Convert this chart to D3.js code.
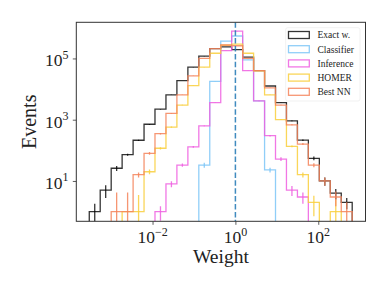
<!DOCTYPE html>
<html><head><meta charset="utf-8">
<script src="https://cdn.jsdelivr.net/npm/d3@7/dist/d3.min.js"></script>
<style>body{margin:0;background:#fff}svg{display:block}</style>
</head><body><svg id="c" width="388" height="291"></svg>
<script>
// ---- data ----
const binEdgesLog = [-3.527,-3.263,-2.998,-2.734,-2.469,-2.205,-1.941,-1.676,-1.412,-1.147,-0.883,-0.619,-0.354,-0.090,0.175,0.439,0.704,0.968,1.232,1.497,1.761,2.026,2.290,2.555,2.819];
const exactW     = [1,5,26,72,213,710,2200,6500,19000,52000,119000,210000,240000,195000,110000,40000,12600,3600,910,215,55,10,4,2];
const classifier = [0,0,0,0,0,0,0,0,0,0,33,17800,370000,540000,90000,4100,23,0,0,0,0,0,0,0];
const inference  = [0,0,0,0,0,0,1,8,33,130,630,3600,180000,780000,40000,4100,300,52,5,3,0,0,0,0];
const homer      = [0,0,0,1,1,20,117,570,3000,13000,52000,148000,270000,295000,148000,39000,6500,1000,135,16,2,0,1,0];
const bestNN     = [0,0,1,1,16,80,350,1600,6500,27000,100000,210000,275000,260000,100000,40000,11000,3000,680,160,33,10,3,1];
// symmetric error bar half-lengths (counts)
const exactErr      = [0.8,2.2,4.7,6,10,20,40,70,120,200,300,400,450,400,300,180,100,50,25,12,8,3,1.5,0.8];
const classifierErr = [0,0,0,0,0,0,0,0,0,0,6,100,500,600,250,50,4,0,0,0,0,0,0,0];
const inferenceErr  = [0,0,0,0,0,0,0.5,1.8,4,8,20,60,400,900,200,60,17,7,1.8,1.2,0,0,0,0];
const homerErr      = [0,0,0,0,2.5,3.5,10,25,50,100,200,350,500,500,350,180,70,30,10,3,1.3,0,1.5,0];
const bestErr       = [0,0,3.2,3.2,3,8,20,40,70,150,300,400,500,500,300,180,100,50,25,12,5,3,1.5,1];
const seriesNames  = ["Exact w.","Classifier","Inference","HOMER","Best NN"];
const seriesColors = ["#000000","#7cc6f7","#ef5fe0","#f9cf3c","#f5845a"];
const xTickExps = [-2,0,2];
const yTickExps = [1,3,5];
const refLineWeight = 1;

// ---- layout ----
const W = 388, H = 291;
const m = {l:76.3, t:22.3, r:365.5, b:221.3};
const svg = d3.select("#c");
const FONT = "'Liberation Serif','DejaVu Serif',serif";

const x = d3.scaleLog().domain([Math.pow(10,-3.84), Math.pow(10,3.14)]).range([m.l, m.r]);
const y = d3.scaleLog().domain([Math.pow(10,-0.317), Math.pow(10,6.18)]).range([m.b, m.t]);

svg.append("defs").append("clipPath").attr("id","pc")
  .append("rect").attr("x",m.l).attr("y",m.t).attr("width",m.r-m.l).attr("height",m.b-m.t);

const edges = binEdgesLog.map(e => Math.pow(10,e));
const yLow = m.b + 6;
const yv = v => v > 0 ? y(v) : yLow;

const series = [
  {vals: exactW, err: exactErr},
  {vals: classifier, err: classifierErr},
  {vals: inference, err: inferenceErr},
  {vals: homer, err: homerErr},
  {vals: bestNN, err: bestErr}
];

const plot = svg.append("g").attr("clip-path","url(#pc)");

series.forEach((s,si) => {
  const col = seriesColors[si];
  const op = si===0 ? 0.8 : 0.85;
  let p = `M${x(edges[0])},${yLow}`;
  s.vals.forEach((v,i) => {
    p += `L${x(edges[i])},${yv(v)}L${x(edges[i+1])},${yv(v)}`;
  });
  p += `L${x(edges[edges.length-1])},${yLow}`;
  plot.append("path").attr("d",p).attr("fill","none")
    .attr("stroke",col).attr("stroke-width",1.3).attr("stroke-opacity",op)
    .attr("stroke-linejoin","miter");
  s.vals.forEach((v,i) => {
    const e = s.err[i];
    if (!(v > 0) || !(e > 0)) return;
    const cx = x(Math.sqrt(edges[i]*edges[i+1]));
    const lo = v - e > 0 ? y(v - e) : yLow;
    const hi = y(v + e);
    plot.append("line").attr("x1",cx).attr("x2",cx).attr("y1",lo).attr("y2",hi)
      .attr("stroke",col).attr("stroke-width",1.3).attr("stroke-opacity",op);
  });
});

// reference line at weight = 1
plot.append("line").attr("x1",x(refLineWeight)).attr("x2",x(refLineWeight))
  .attr("y1",m.t).attr("y2",m.b).attr("stroke","#1f77b4").attr("stroke-opacity",0.85)
  .attr("stroke-width",1.5).attr("stroke-dasharray","5.5,2.4");

// axes ticks
const xAxis = d3.axisBottom(x).tickValues(xTickExps.map(e=>Math.pow(10,e))).tickFormat("").tickSizeInner(3.5).tickSizeOuter(0);
const gx = svg.append("g").attr("transform",`translate(0,${m.b})`).call(xAxis);
const yAxis = d3.axisLeft(y).tickValues(yTickExps.map(e=>Math.pow(10,e))).tickFormat("").tickSizeInner(3.5).tickSizeOuter(0);
const gy = svg.append("g").attr("transform",`translate(${m.l},0)`).call(yAxis);
[gx,gy].forEach(g => { g.select(".domain").remove(); g.selectAll(".tick line").attr("stroke","#333").attr("stroke-width",0.8); });

function powLabel(t, e) {
  t.append("tspan").text("10");
  t.append("tspan").attr("dy",-7.5).attr("font-size",12).text(e < 0 ? "\u2212" + (-e) : String(e));
}
xTickExps.forEach(e => {
  const t = svg.append("text").attr("x", x(Math.pow(10,e))).attr("y", 243)
    .attr("text-anchor","middle").attr("font-family",FONT).attr("font-size",17.5).attr("fill","#222");
  powLabel(t, e);
});
yTickExps.forEach(e => {
  const t = svg.append("text").attr("x", 68.5).attr("y", y(Math.pow(10,e)) + 7.8)
    .attr("text-anchor","end").attr("font-family",FONT).attr("font-size",17.5).attr("fill","#222");
  powLabel(t, e);
});

// frame
svg.append("rect").attr("x",m.l).attr("y",m.t).attr("width",m.r-m.l).attr("height",m.b-m.t)
  .attr("fill","none").attr("stroke","#333").attr("stroke-width",1);

// axis titles
svg.append("text").attr("x",(m.l+m.r)/2).attr("y",263).attr("text-anchor","middle")
  .attr("font-family",FONT).attr("font-size",19.5).attr("fill","#222").text("Weight");
svg.append("text").attr("transform",`translate(36,${(m.t+m.b)/2}) rotate(-90)`).attr("text-anchor","middle")
  .attr("font-family",FONT).attr("font-size",20).attr("fill","#222").text("Events");

// legend
const lg = svg.append("g");
lg.append("rect").attr("x",285.7).attr("y",27.7).attr("width",74.3).attr("height",73.3).attr("rx",2)
  .attr("fill","#fff").attr("fill-opacity",0.8).attr("stroke","#eee").attr("stroke-width",0.8);
seriesNames.forEach((n,i) => {
  const cy = 35 + i*14.2;
  lg.append("rect").attr("x",288.5).attr("y",cy-3.5).attr("width",20.8).attr("height",7)
    .attr("fill","none").attr("stroke",seriesColors[i]).attr("stroke-width",1.3).attr("stroke-opacity",i===0?0.8:0.85);
  lg.append("text").attr("x",317.5).attr("y",cy+3.3).attr("font-family",FONT).attr("font-size",9.5)
    .attr("fill","#222").text(n);
});
</script></body></html>
